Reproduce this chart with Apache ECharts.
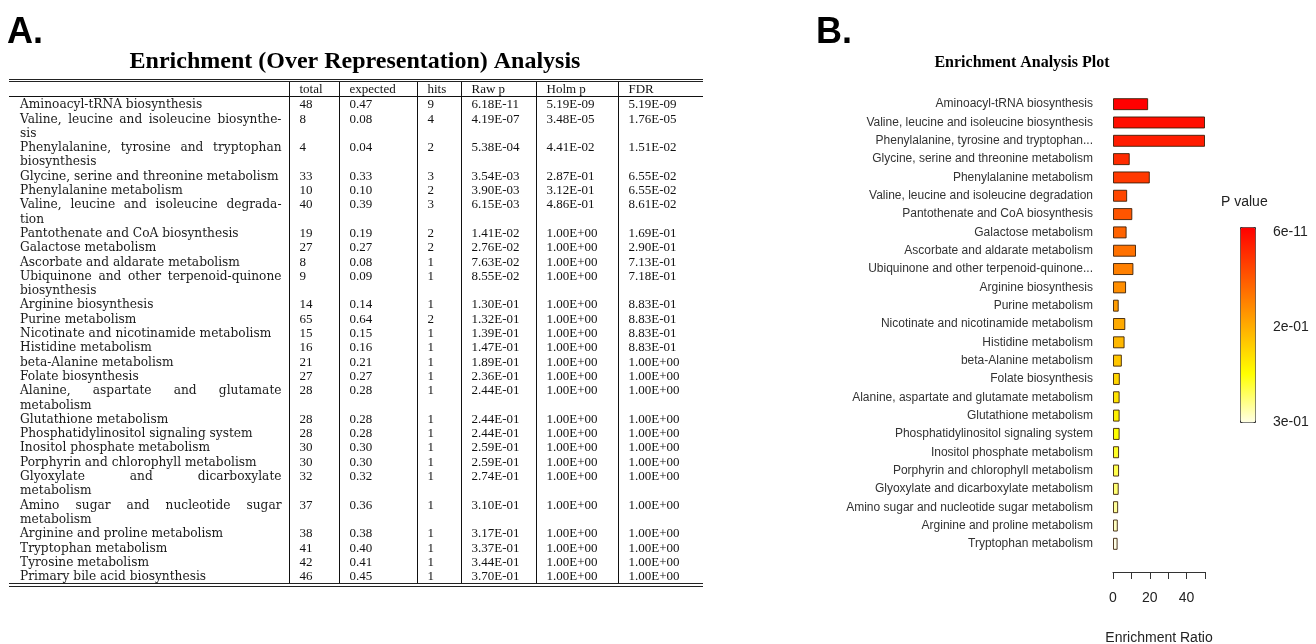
<!DOCTYPE html>
<html>
<head>
<meta charset="utf-8">
<script src="https://cdn.jsdelivr.net/npm/echarts@6/dist/echarts.min.js"></script>
<style>
  html, body { margin: 0; padding: 0; background: #fff; }
  #chart { position: absolute; left: 0; top: 0; width: 1316px; height: 644px; }
  #tableA {
    position: absolute; left: 9px; top: 79px; width: 694px;
    border-collapse: collapse; table-layout: fixed;
    font-family: "Liberation Serif", "Times New Roman", serif;
    font-size: 13px; line-height: 14.3px; color: #111;
    border-top: 3px double #222; border-bottom: 4px double #222;
  }
  #tableA td, #tableA th {
    padding: 0 0 0 10px; vertical-align: top; text-align: left;
    font-weight: normal; white-space: nowrap; overflow: hidden;
  }
  #tableA td + td, #tableA th + th { border-left: 1px solid #111; }
  #tableA thead th { border-bottom: 1px solid #111; }
  #tableA td.name {
    padding: 0 7px 0 11px; white-space: normal;
    font-family: "DejaVu Serif", serif; font-size: 12.2px; color: #1a1a1a;
  }
  .j { text-align: justify; text-align-last: justify; }
</style>
</head>
<body>
<div id="chart"></div>
<table id="tableA"></table>
<script>
// ---- panel A: table values ----
const tableHeader = ["", "total", "expected", "hits", "Raw p", "Holm p", "FDR"];
const pathwayLines = [
  ["Aminoacyl-tRNA biosynthesis"],
  ["Valine, leucine and isoleucine biosynthe-", "sis"],
  ["Phenylalanine, tyrosine and tryptophan", "biosynthesis"],
  ["Glycine, serine and threonine metabolism"],
  ["Phenylalanine metabolism"],
  ["Valine, leucine and isoleucine degrada-", "tion"],
  ["Pantothenate and CoA biosynthesis"],
  ["Galactose metabolism"],
  ["Ascorbate and aldarate metabolism"],
  ["Ubiquinone and other terpenoid-quinone", "biosynthesis"],
  ["Arginine biosynthesis"],
  ["Purine metabolism"],
  ["Nicotinate and nicotinamide metabolism"],
  ["Histidine metabolism"],
  ["beta-Alanine metabolism"],
  ["Folate biosynthesis"],
  ["Alanine, aspartate and glutamate", "metabolism"],
  ["Glutathione metabolism"],
  ["Phosphatidylinositol signaling system"],
  ["Inositol phosphate metabolism"],
  ["Porphyrin and chlorophyll metabolism"],
  ["Glyoxylate and dicarboxylate", "metabolism"],
  ["Amino sugar and nucleotide sugar", "metabolism"],
  ["Arginine and proline metabolism"],
  ["Tryptophan metabolism"],
  ["Tyrosine metabolism"],
  ["Primary bile acid biosynthesis"]
];
const totals = [48, 8, 4, 33, 10, 40, 19, 27, 8, 9, 14, 65, 15, 16, 21, 27, 28, 28, 28, 30, 30, 32, 37, 38, 41, 42, 46];
const expected = ["0.47", "0.08", "0.04", "0.33", "0.10", "0.39", "0.19", "0.27", "0.08", "0.09", "0.14", "0.64", "0.15",
  "0.16", "0.21", "0.27", "0.28", "0.28", "0.28", "0.30", "0.30", "0.32", "0.36", "0.38", "0.40", "0.41", "0.45"];
const hits = [9, 4, 2, 3, 2, 3, 2, 2, 1, 1, 1, 2, 1, 1, 1, 1, 1, 1, 1, 1, 1, 1, 1, 1, 1, 1, 1];
const rawP = ["6.18E-11", "4.19E-07", "5.38E-04", "3.54E-03", "3.90E-03", "6.15E-03", "1.41E-02", "2.76E-02", "7.63E-02",
  "8.55E-02", "1.30E-01", "1.32E-01", "1.39E-01", "1.47E-01", "1.89E-01", "2.36E-01", "2.44E-01", "2.44E-01", "2.44E-01",
  "2.59E-01", "2.59E-01", "2.74E-01", "3.10E-01", "3.17E-01", "3.37E-01", "3.44E-01", "3.70E-01"];
const holmP = ["5.19E-09", "3.48E-05", "4.41E-02", "2.87E-01", "3.12E-01", "4.86E-01", "1.00E+00", "1.00E+00", "1.00E+00",
  "1.00E+00", "1.00E+00", "1.00E+00", "1.00E+00", "1.00E+00", "1.00E+00", "1.00E+00", "1.00E+00", "1.00E+00", "1.00E+00",
  "1.00E+00", "1.00E+00", "1.00E+00", "1.00E+00", "1.00E+00", "1.00E+00", "1.00E+00", "1.00E+00"];
const fdr = ["5.19E-09", "1.76E-05", "1.51E-02", "6.55E-02", "6.55E-02", "8.61E-02", "1.69E-01", "2.90E-01", "7.13E-01",
  "7.18E-01", "8.83E-01", "8.83E-01", "8.83E-01", "8.83E-01", "1.00E+00", "1.00E+00", "1.00E+00", "1.00E+00", "1.00E+00",
  "1.00E+00", "1.00E+00", "1.00E+00", "1.00E+00", "1.00E+00", "1.00E+00", "1.00E+00", "1.00E+00"];
const columnWidths = [280, 50, 78, 44, 75, 82, 85];

// ---- panel B: bar values ----
const plotNames = [
  "Aminoacyl-tRNA biosynthesis",
  "Valine, leucine and isoleucine biosynthesis",
  "Phenylalanine, tyrosine and tryptophan...",
  "Glycine, serine and threonine metabolism",
  "Phenylalanine metabolism",
  "Valine, leucine and isoleucine degradation",
  "Pantothenate and CoA biosynthesis",
  "Galactose metabolism",
  "Ascorbate and aldarate metabolism",
  "Ubiquinone and other terpenoid-quinone...",
  "Arginine biosynthesis",
  "Purine metabolism",
  "Nicotinate and nicotinamide metabolism",
  "Histidine metabolism",
  "beta-Alanine metabolism",
  "Folate biosynthesis",
  "Alanine, aspartate and glutamate metabolism",
  "Glutathione metabolism",
  "Phosphatidylinositol signaling system",
  "Inositol phosphate metabolism",
  "Porphyrin and chlorophyll metabolism",
  "Glyoxylate and dicarboxylate metabolism",
  "Amino sugar and nucleotide sugar metabolism",
  "Arginine and proline metabolism",
  "Tryptophan metabolism"
];
const enrichmentRatio = [19.1, 50.0, 50.0, 9.1, 20.0, 7.7, 10.5, 7.4, 12.5, 11.1, 7.1, 3.1, 6.7, 6.3, 4.8, 3.7, 3.6, 3.6,
  3.6, 3.3, 3.3, 3.1, 2.8, 2.6, 2.5];
const pLegendLabels = ["6e-11", "2e-01", "3e-01"];
const heatColors = ["#ff0000", "#ff5500", "#ffaa00", "#ffff00", "#ffffe6"];

// build the table
const table = document.getElementById("tableA");
let html = "<colgroup>" + columnWidths.map((w) => `<col style="width:${w}px">`).join("") + "</colgroup>";
html += "<thead><tr>" + tableHeader.map((h) => `<th>${h}</th>`).join("") + "</tr></thead><tbody>";
pathwayLines.forEach((lines, i) => {
  const name = lines.length > 1
    ? `<div class="j">${lines[0]}</div><div>${lines[1]}</div>`
    : `<div>${lines[0]}</div>`;
  html += `<tr><td class="name">${name}</td><td>${totals[i]}</td><td>${expected[i]}</td><td>${hits[i]}</td>` +
    `<td>${rawP[i]}</td><td>${holmP[i]}</td><td>${fdr[i]}</td></tr>`;
});
html += "</tbody>";
table.innerHTML = html;

// bar chart
const chart = echarts.init(document.getElementById("chart"));
const sans = "'Liberation Sans', Arial, sans-serif";
const serif = "'Liberation Serif', 'Times New Roman', serif";

const option = {
  backgroundColor: "transparent",
  animation: false,
  graphic: [
    { type: "text", x: 7, y: 33, style: { text: "A.", font: `bold 36px ${sans}`, fill: "#000", textVerticalAlign: "middle" } },
    { type: "text", x: 816, y: 33, style: { text: "B.", font: `bold 36px ${sans}`, fill: "#000", textVerticalAlign: "middle" } },
    {
      type: "text", x: 355, y: 62,
      style: { text: "Enrichment (Over Representation) Analysis", font: `bold 24px ${serif}`, fill: "#000", textAlign: "center", textVerticalAlign: "middle" }
    },
    {
      type: "text", x: 1022, y: 63,
      style: { text: "Enrichment Analysis Plot", font: `bold 16px ${serif}`, fill: "#000", textAlign: "center", textVerticalAlign: "middle" }
    },
    { type: "text", x: 1221, y: 202, style: { text: "P value", font: `14px ${sans}`, fill: "#222", textVerticalAlign: "middle" } },
    ...pLegendLabels.map((t, i) => ({
      type: "text", x: 1273, y: 232 + i * 95,
      style: { text: t, font: `14px ${sans}`, fill: "#222", textVerticalAlign: "middle" }
    }))
  ],
  grid: { left: 1113, right: 111, top: 95, bottom: 91, outerBoundsMode: "none", containLabel: false },
  xAxis: {
    type: "value", min: 0, max: 50, interval: 10,
    offset: 19,
    name: "Enrichment Ratio", nameLocation: "middle", nameGap: 59,
    nameTextStyle: { fontFamily: sans, fontSize: 14, color: "#222" },
    splitLine: { show: false },
    axisLine: { show: true, lineStyle: { color: "#333", width: 1 } },
    axisTick: { show: true, length: 7, lineStyle: { color: "#333" } },
    axisLabel: {
      fontFamily: sans, fontSize: 14, color: "#222", margin: 19,
      formatter: (v) => (v % 20 === 0 && v < 50 ? String(v) : "")
    }
  },
  yAxis: {
    type: "category", data: plotNames, inverse: true,
    axisLine: { show: false }, axisTick: { show: false },
    axisLabel: { fontFamily: sans, fontSize: 12, color: "#333", margin: 20 }
  },
  visualMap: {
    type: "continuous", dimension: 2, min: 0, max: plotNames.length - 1,
    inverse: true, orient: "vertical", calculable: false, text: null, showLabel: false,
    left: 1240, top: 227, itemWidth: 15, itemHeight: 195, padding: 0,
    borderColor: "#333", borderWidth: 1,
    inRange: { color: heatColors },
    seriesIndex: 0
  },
  series: [{
    type: "bar",
    barWidth: 12,
    encode: { x: 0, y: 1 },
    data: enrichmentRatio.map((r, i) => [r, i, i]),
    itemStyle: { borderColor: "rgba(50,25,0,0.85)", borderWidth: 1 }
  }]
};
chart.setOption(option);
</script>
</body>
</html>
